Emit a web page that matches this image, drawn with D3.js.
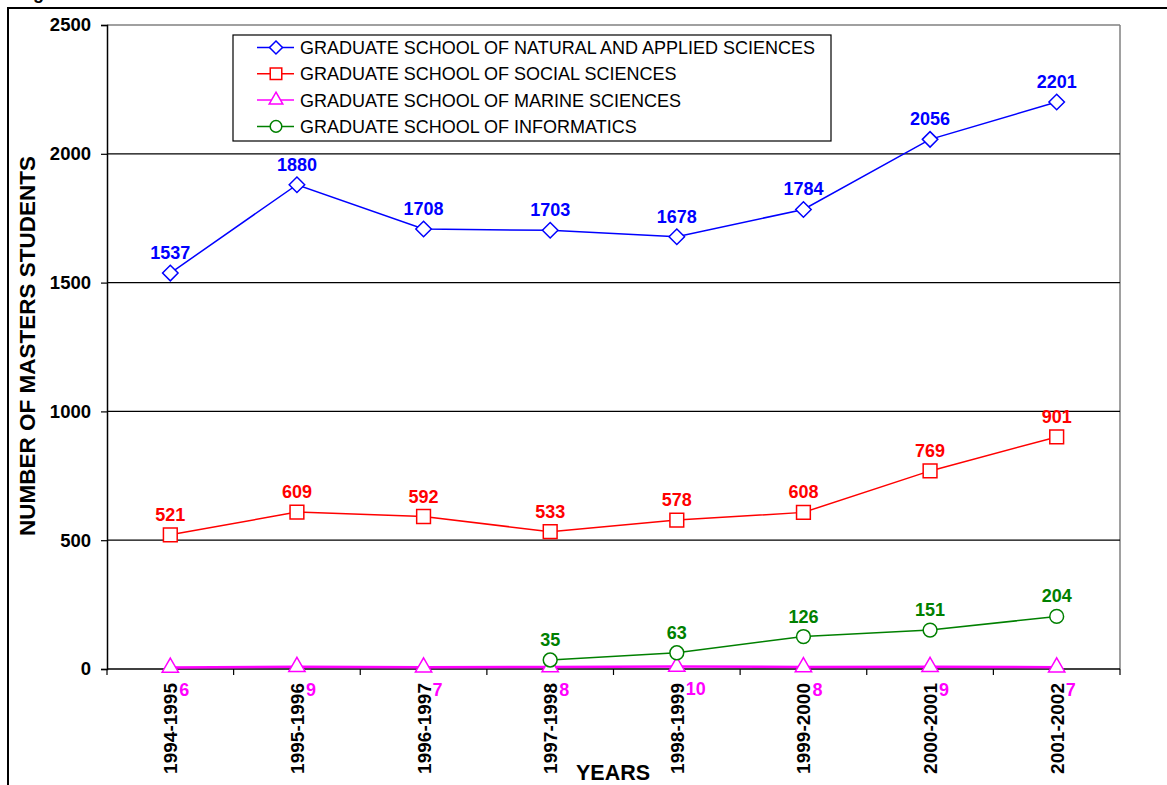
<!DOCTYPE html>
<html><head><meta charset="utf-8">
<script src="https://cdn.jsdelivr.net/npm/d3@7"></script>
<style>body{margin:0;background:#fff}svg{display:block;font-family:Arial,"Liberation Sans",sans-serif}</style>
</head><body><svg id="c" width="1167" height="785"></svg>
<script>
const years = ["1994-1995","1995-1996","1996-1997","1997-1998","1998-1999","1999-2000","2000-2001","2001-2002"];
const natural = [1537,1880,1708,1703,1678,1784,2056,2201];
const social = [521,609,592,533,578,608,769,901];
const marine = [6,9,7,8,10,8,9,7];
const informatics = [null,null,null,35,63,126,151,204];
const yTicks = [0,500,1000,1500,2000,2500];
const seriesNames = ["GRADUATE SCHOOL OF NATURAL AND APPLIED SCIENCES","GRADUATE SCHOOL OF SOCIAL SCIENCES","GRADUATE SCHOOL OF MARINE SCIENCES","GRADUATE SCHOOL OF INFORMATICS"];

const svg = d3.select("#c");
const L=107,R=1120,T=25,B=669;
const x = d3.scaleBand().domain(years).range([L,R]);
const y = d3.scaleLinear().domain([0,2500]).range([B,T]);
const cx = d => x(d)+x.bandwidth()/2;

// outer frame
svg.append("rect").attr("x",8).attr("y",8).attr("width",1170).attr("height",800).attr("fill","none").attr("stroke","#000").attr("stroke-width",2);
svg.append("text").attr("x",33).attr("y",-1).attr("font-weight","bold").attr("font-size",18).text("g");

// plot border
svg.append("line").attr("x1",L).attr("x2",R).attr("y1",T).attr("y2",T).attr("stroke","#808080").attr("stroke-width",1.5);
svg.append("line").attr("x1",R).attr("x2",R).attr("y1",T).attr("y2",B).attr("stroke","#808080").attr("stroke-width",1.5);
// gridlines
svg.append("g").selectAll("line").data(yTicks.filter(v=>v>0&&v<2500)).join("line")
  .attr("x1",L).attr("x2",R).attr("y1",d=>y(d)).attr("y2",d=>y(d)).attr("stroke","#000").attr("stroke-width",1.2);

// y axis
const ya = svg.append("g").attr("transform",`translate(${L},0)`).call(d3.axisLeft(y).tickValues(yTicks).tickSize(6).tickPadding(10).tickFormat(d3.format("d")));
ya.select(".domain").attr("stroke","#000").attr("stroke-width",1.5);
ya.selectAll("line").attr("stroke","#000").attr("stroke-width",1.2);
ya.selectAll("text").attr("font-size",18.5).attr("font-weight","bold").attr("fill","#000").attr("font-family","Arial,'Liberation Sans',sans-serif");

// x axis: ticks at boundaries
const xa = svg.append("g").attr("transform",`translate(0,${B})`);
xa.append("line").attr("x1",L).attr("x2",R).attr("stroke","#000").attr("stroke-width",1.5);
const bounds = years.map(d=>x(d)).concat([R]);
xa.selectAll("line.t").data(bounds).join("line").attr("class","t").attr("x1",d=>d).attr("x2",d=>d).attr("y1",0).attr("y2",6).attr("stroke","#000").attr("stroke-width",1.2);
xa.selectAll("text").data(years).join("text")
  .attr("transform",d=>`translate(${cx(d)+7},14) rotate(-90)`)
  .attr("text-anchor","end").attr("font-size",19).attr("font-weight","bold").attr("fill","#000").text(d=>d);

// axis titles
svg.append("text").attr("transform","translate(35,346) rotate(-90)").attr("text-anchor","middle").attr("font-size",22.5).attr("font-weight","bold").text("NUMBER OF MASTERS STUDENTS");
svg.append("text").attr("x",613).attr("y",780).attr("text-anchor","middle").attr("font-size",21.5).attr("font-weight","bold").text("YEARS");

const diamond = {draw(ctx,size){const r=Math.sqrt(size/2);ctx.moveTo(0,-r);ctx.lineTo(r,0);ctx.lineTo(0,r);ctx.lineTo(-r,0);ctx.closePath();}};
const series = [
 {name:seriesNames[0],vals:natural,color:"#0000ff",sym:diamond,size:120,lab:"above"},
 {name:seriesNames[1],vals:social,color:"#ff0000",sym:d3.symbolSquare,size:190,lab:"above"},
 {name:seriesNames[2],vals:marine,color:"#ff00ff",sym:d3.symbolTriangle,size:115,lab:"right"},
 {name:seriesNames[3],vals:informatics,color:"#008000",sym:d3.symbolCircle,size:150,lab:"above"}
];
const line = d3.line().defined(d=>d.v!=null).x(d=>cx(d.k)).y(d=>y(d.v));
series.forEach(s=>{
  const pts = years.map((k,i)=>({k,v:s.vals[i]})).filter(d=>d.v!=null);
  const g = svg.append("g");
  g.append("path").datum(pts).attr("d",line).attr("fill","none").attr("stroke",s.color).attr("stroke-width",s.lab==="right"?2.5:1.5);
  g.selectAll("path.m").data(pts).join("path").attr("class","m")
    .attr("d",d3.symbol().type(s.sym).size(s.size))
    .attr("transform",d=>`translate(${cx(d.k)},${y(d.v)})`)
    .attr("fill","#fff").attr("stroke",s.color).attr("stroke-width",1.5);
  g.selectAll("text").data(pts).join("text")
    .attr("x",d=>s.lab==="right"?cx(d.k)+9:cx(d.k))
    .attr("y",d=>s.lab==="right"?y(d.v)+29:y(d.v)-14)
    .attr("text-anchor",s.lab==="right"?"start":"middle")
    .attr("font-size",18).attr("font-weight","bold").attr("fill",s.color).text(d=>d.v);
});

// legend
const lg = svg.append("g");
lg.append("rect").attr("x",233).attr("y",35).attr("width",598).attr("height",106).attr("fill","#fff").attr("stroke","#000").attr("stroke-width",1.2);
series.forEach((s,i)=>{
  const yy = 47.5 + i*26.3;
  lg.append("line").attr("x1",257).attr("x2",294).attr("y1",yy).attr("y2",yy).attr("stroke",s.color).attr("stroke-width",1.5);
  lg.append("path").attr("d",d3.symbol().type(s.sym).size(s.size*0.7)).attr("transform",`translate(276,${yy})`).attr("fill","#fff").attr("stroke",s.color).attr("stroke-width",1.5);
  lg.append("text").attr("x",300).attr("y",yy+6.5).attr("font-size",18).attr("fill","#000").text(s.name);
});
</script></body></html>
